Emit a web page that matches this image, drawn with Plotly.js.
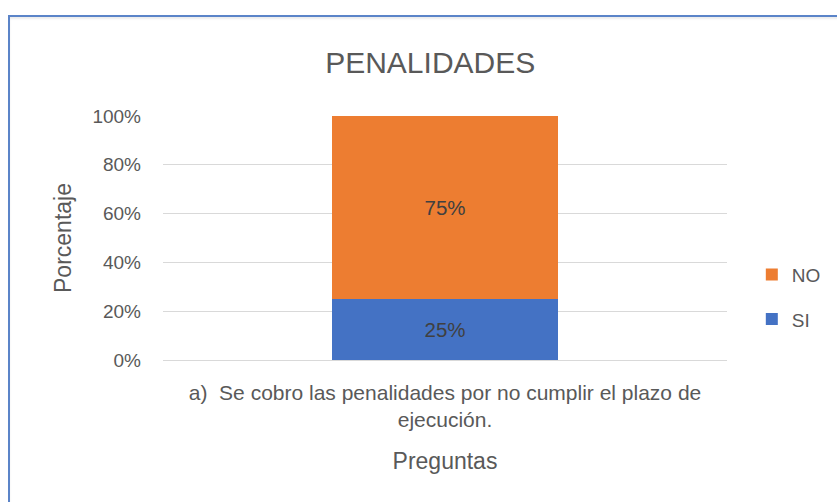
<!DOCTYPE html>
<html>
<head>
<meta charset="utf-8">
<script src="https://cdn.plot.ly/plotly-3.0.1.min.js"></script>
<style>
  html, body { margin: 0; padding: 0; background: #ffffff; overflow: hidden; }
  #chart { position: absolute; left: 0; top: 0; width: 837px; height: 502px; }
  #frame {
    position: absolute; left: 8px; top: 15px; width: 900px; height: 600px;
    border-top: 2px solid #5b84c8; border-left: 2px solid #5b84c8;
    box-shadow: inset 0 2px 2px rgba(0,0,0,0.08);
    pointer-events: none;
  }
</style>
</head>
<body>
<div id="chart"></div>
<div id="frame"></div>
<script>
// Penalidades: single stacked bar, SI vs NO
const categories = ["a)\u00a0 Se cobro las penalidades por no cumplir el plazo de<br>ejecución."];
const siValues = [25];
const noValues = [75];
const yTicks = [0, 20, 40, 60, 80, 100];
const yTickText = yTicks.map((v) => v + "%");

const FONT = "Liberation Sans, Arial, sans-serif";
const GRAY = "#595959";

const traces = [
  {
    type: "bar", name: "SI", x: categories, y: siValues,
    marker: { color: "#4472c4" },
    text: siValues.map((v) => v + "%"), textposition: "inside", insidetextanchor: "middle",
    textfont: { family: FONT, size: 20.5, color: "#404040" },
    legendgroup: "si", legendrank: 2, hoverinfo: "skip",
  },
  {
    type: "bar", name: "NO", x: categories, y: noValues,
    marker: { color: "#ed7d31" },
    text: noValues.map((v) => v + "%"), textposition: "inside", insidetextanchor: "middle",
    textfont: { family: FONT, size: 20.5, color: "#404040" },
    legendgroup: "no", legendrank: 1, hoverinfo: "skip",
  },
];

const layout = {
  width: 837, height: 502,
  margin: { l: 163, r: 110, t: 116, b: 142, autoexpand: false },
  paper_bgcolor: "#ffffff", plot_bgcolor: "#ffffff",
  font: { family: FONT, color: GRAY },
  barmode: "stack",
  bargap: 0.6,
  title: {
    text: "PENALIDADES", x: 0.514, xanchor: "center", y: 0.875, yanchor: "middle",
    font: { family: FONT, size: 30, color: GRAY },
  },
  xaxis: {
    showgrid: false, showline: false, zeroline: false, ticks: "",
    ticklabelstandoff: 18,
    tickfont: { family: FONT, size: 21, color: GRAY },
    title: { text: "Preguntas", font: { family: FONT, size: 23, color: GRAY }, standoff: 22 },
    automargin: false,
  },
  yaxis: {
    range: [0, 100], tickmode: "array", tickvals: yTicks, ticktext: yTickText,
    showgrid: true, gridcolor: "#d9d9d9", gridwidth: 1,
    zeroline: true, zerolinecolor: "#d9d9d9", showline: false, ticks: "",
    ticklabelstandoff: 21,
    tickfont: { family: FONT, size: 19, color: GRAY },
    title: { text: "Porcentaje", font: { family: FONT, size: 23, color: GRAY }, standoff: 14 },
    automargin: false,
  },
  showlegend: true,
  legend: {
    x: 1.044, xanchor: "left", y: 0.258, yanchor: "middle",
    traceorder: "grouped", tracegroupgap: 17,
    font: { family: FONT, size: 19, color: GRAY },
    itemwidth: 30, bgcolor: "rgba(0,0,0,0)",
  },
};

Plotly.newPlot("chart", traces, layout, { displayModeBar: false, staticPlot: true });
</script>
</body>
</html>
